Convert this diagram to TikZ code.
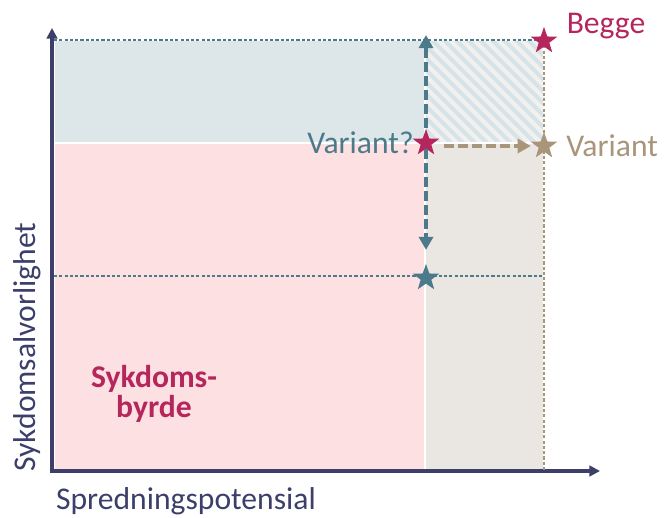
\documentclass[tikz,border=0pt]{standalone}
\usepackage{fontspec}
\setmainfont{Carlito}
\usetikzlibrary{arrows.meta,positioning,shapes.geometric}
\definecolor{axisnavy}{HTML}{3C3F6A}
\definecolor{riskpink}{HTML}{FDE0E1}
\definecolor{riskblue}{HTML}{DDE7EA}
\definecolor{riskbeige}{HTML}{EAE6E2}
\definecolor{hatchbase}{HTML}{F3F1EE}
\definecolor{hatchblue}{HTML}{D6E4EA}
\definecolor{tealline}{HTML}{4D7A8B}
\definecolor{crimson}{HTML}{B5265C}
\definecolor{tanline}{HTML}{A8957A}
\tikzset{
  zone/.style={draw=white,line width=1pt,fill=#1},
  axisline/.style={{Triangle[length=6pt,width=6pt]}-{Triangle[length=6pt,width=6pt]},
    line width=1.9pt,draw=axisnavy,line join=miter},
  guide/.style={dash pattern=on 1.8pt off 1.2pt,line width=0.6pt,draw=#1},
  movearrow/.style={-{Triangle[length=7.5pt,width=8pt]},dash pattern=on 5.5pt off 2.5pt,
    line width=2.2pt,draw=#1},
  pinstar/.style={star,star points=5,star point ratio=2.5,fill=#1,draw=none,
    minimum size=0.56cm,inner sep=0pt},
  lbl/.style={text=#1,font=\fontsize{18}{18}\selectfont,inner sep=1pt},
  lbl/.default=axisnavy
}
\begin{document}
\begin{tikzpicture}[x=0.02cm,y=-0.02cm]
\useasboundingbox (0,0) rectangle (664,518);

% zones
\draw[zone=riskpink] (54,143) rectangle (425,470);
\draw[zone=riskblue] (54,40) rectangle (425,143);
\draw[zone=riskbeige] (425,143) rectangle (544,470);
\fill[hatchbase] (425,40) rectangle (544,143);
\begin{scope}
  \clip (426,41) rectangle (543,142);
  \foreach \s in {290,302,...,560}
    \draw[hatchblue,line width=2.4pt] (\s,30) -- ++(130,130);
\end{scope}
\draw[white,line width=1pt] (425,40) rectangle (544,143);

% axes
\coordinate (origin) at (52,471);
\coordinate (yend) at (52,28);
\coordinate (xend) at (600,471);
\draw[axisline] (yend) -- (origin) -- (xend);

% guides
\coordinate (topleft) at (54,40);
\coordinate (midleft) at (54,276);
\coordinate (midright) at (544,276);
\coordinate (baseright) at (544,472);
\coordinate (toparrow) at (426,35);
\draw[guide=tealline] (topleft) -- (544,40);
\draw[guide=tealline] (midleft) -- (midright);
\draw[guide=tanline] (544,40) -- (baseright);

% stars
\node[pinstar=crimson] (begge) at (544,41) {};
\node[pinstar=crimson] (varq) at (426,143) {};
\node[pinstar=tanline] (variant) at (544,146) {};
\node[pinstar=tealline] (low) at (426,278) {};

\draw[movearrow=tealline] (varq) -- (toparrow);
\draw[movearrow=tealline,shorten >=0.26cm] (varq) -- (low);
\draw[movearrow=tanline,shorten <=0.2cm,shorten >=0.1cm] (varq.east |- variant.center) -- (variant);

% labels
\node[lbl=crimson] (beggelbl) at (606,26) {Begge};
\node[lbl=tealline,left=0.04cm of varq] (varqlbl) {Variant?};
\node[lbl=tanline,right=0.24cm of variant] (variantlbl) {Variant};
\node[lbl=crimson,font=\fontsize{18}{17}\selectfont\bfseries,align=center] (burden) at (154,394) {Sykdoms-\\byrde};
\node[lbl,rotate=90] (ylbl) at (27,347) {Sykdomsalvorlighet};
\node[lbl] (xlbl) at (186,501) {Spredningspotensial};
\end{tikzpicture}
\end{document}
